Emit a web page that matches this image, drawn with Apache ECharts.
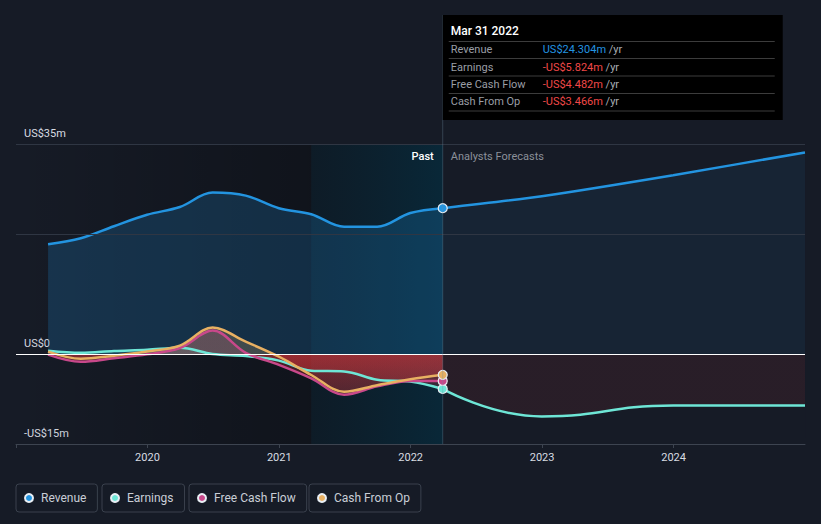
<!DOCTYPE html>
<html><head><meta charset="utf-8">
<script src="https://cdn.jsdelivr.net/npm/echarts@6/dist/echarts.min.js"></script>
<style>html,body{margin:0;padding:0;background:#161b26;}#c{width:821px;height:524px;}</style>
</head><body><div id="c"></div>
<script>
// ---------- data ----------
const pastDates = ['2019-03-31','2019-06-30','2019-09-30','2019-12-31','2020-03-31','2020-06-30','2020-09-30','2020-12-31','2021-03-31','2021-06-30','2021-09-30','2021-12-31','2022-03-31'];
const revenuePast  = [18.3, 19.3, 21.3, 23.2, 24.5, 26.9, 26.4, 24.3, 23.3, 21.2, 21.2, 23.5, 24.304];
const earningsPast = [0.55, 0.2, 0.5, 0.7, 1.05, 0.0, -0.33, -1.1, -2.8, -2.9, -4.3, -4.6, -5.824];
const fcfPast      = [-0.1, -1.3, -0.7, -0.05, 1.0, 3.9, 0.2, -1.8, -4.05, -6.8, -5.4, -4.5, -4.482];
const cfoPast      = [0.4, -0.8, -0.3, 0.4, 1.4, 4.4, 2.05, -0.45, -3.5, -6.3, -5.2, -4.2, -3.466];
const forecastDates    = ['2022-03-31','2022-12-31','2023-12-31','2024-12-31'];
const revenueForecast  = [24.304, 26.3, 29.8, 33.6];
const earningsForecast = [-5.824, -10.4, -8.6, -8.6];
const seriesNames = ['Revenue','Earnings','Free Cash Flow','Cash From Op'];
const yTickValues = [-15, 0, 35];
const yTickLabels = ['-US$15m', 'US$0', 'US$35m'];
const gridValues = [35, 20];
const xYearLabels = [2020, 2021, 2022, 2023, 2024];
const xMin = '2019-01-01', xMax = '2024-12-31';
const bandStart = '2021-03-31', nowDate = '2022-03-31';
const tipTitle = 'Mar 31 2022';
const tipValues = ['US$24.304m', '-US$5.824m', '-US$4.482m', '-US$3.466m'];
const pastLabel = 'Past', forecastLabel = 'Analysts Forecasts';

// ---------- styles ----------
const BG = '#161b26';
const C = {rev:'#2394e0', earn:'#6ee6d6', fcf:'#c8488a', cfo:'#e8b062', red:[226,56,60]};
const hexRgb = h => [parseInt(h.slice(1,3),16), parseInt(h.slice(3,5),16), parseInt(h.slice(5,7),16)];
const rgba = (c, a) => { const v = Array.isArray(c) ? c : hexRgb(c); return `rgba(${v[0]},${v[1]},${v[2]},${a})`; };
const zip = (d, v) => d.map((x, i) => [x, v[i]]);
const FONT = 'Roboto, "Noto Sans", sans-serif';

const chart = echarts.init(document.getElementById('c'), null, {renderer: 'svg'});

const lastSym = n => (v, p) => p.dataIndex === n - 1 ? 9 : 0;
function lineSeries(name, dates, vals, color, opts) {
  return Object.assign({
    name, type: 'line', data: zip(dates, vals), smooth: 0.35,
    color, symbol: 'circle', symbolSize: 0, showSymbol: true,
    lineStyle: {color, width: 2.5},
    itemStyle: {color, borderColor: '#e8eef4', borderWidth: 1.2},
    emphasis: {disabled: true}, silent: true, animation: false
  }, opts || {});
}

const baseOption = {
  backgroundColor: BG,
  animation: false,
  grid: {left: 16, right: 16, top: 144, bottom: 80, containLabel: false},
  xAxis: {
    type: 'time', min: xMin, max: xMax,
    minInterval: 365 * 24 * 3600 * 1000, maxInterval: 366 * 24 * 3600 * 1000,
    axisLine: {onZero: false, lineStyle: {color: '#3d4450', width: 1}},
    axisTick: {show: true, length: 4, lineStyle: {color: '#3d4450'}},
    splitLine: {show: false},
    axisLabel: {color: '#d8dce2', fontSize: 11, fontFamily: FONT, margin: 8,
      formatter: v => { const y = new Date(v).getFullYear(); return xYearLabels.indexOf(y) >= 0 ? String(y) : ''; }}
  },
  yAxis: {
    type: 'value', min: -15, max: 35, interval: 5,
    axisLine: {show: false}, axisTick: {show: false}, splitLine: {show: false},
    axisLabel: {inside: true, margin: 8, verticalAlign: 'bottom', padding: [0, 0, 5, 0],
      color: '#d8dce2', fontSize: 11, fontFamily: FONT,
      formatter: v => { const i = yTickValues.indexOf(v); return i >= 0 ? yTickLabels[i] : ''; }}
  },
  legend: seriesNames.map((n, i) => ({
    data: [n], left: [16, 102, 189, 309][i], top: 484, icon: 'circle',
    itemWidth: 14, itemHeight: 8, itemGap: 0, padding: [7, 11, 7, 8],
    borderColor: '#3a414d', borderWidth: 1, borderRadius: 3, selectedMode: false,
    textStyle: {color: '#c9ced6', fontSize: 12, fontFamily: FONT, lineHeight: 14}
  })),
  series: []
};
chart.setOption(baseOption);

const px = (d, v) => chart.convertToPixel({gridIndex: 0}, [+new Date(d), v]);
const yTop = px(xMin, 35)[1], y0 = px(xMin, 0)[1], yBot = px(xMin, -15)[1];
const xLeft = px(xMin, 0)[0], xRight = px(xMax, 0)[0];
const xNow = px(nowDate, 0)[0];

function signFill(pos, posA, neg, negA0, negA1) {
  const z = (y0 - yTop) / (yBot - yTop);
  return new echarts.graphic.LinearGradient(0, yTop, 0, yBot, [
    {offset: 0, color: rgba(pos, posA)}, {offset: z, color: rgba(pos, posA)},
    {offset: z, color: rgba(neg, negA0)}, {offset: 1, color: rgba(neg, negA1)}
  ], true);
}

const series = [
  { // background bands, gridlines
    name: '_bands', type: 'line', data: [], silent: true, z: 1,
    markArea: {silent: true, data: [
      [{xAxis: xMin, yAxis: 35, itemStyle: {color: new echarts.graphic.LinearGradient(0, 0, 1, 0, [
        {offset: 0, color: 'rgba(0,0,0,0)'}, {offset: 1, color: 'rgba(0,0,0,0.28)'}])}}, {xAxis: bandStart, yAxis: -15}],
      [{xAxis: bandStart, yAxis: 35, itemStyle: {color: new echarts.graphic.LinearGradient(0, 0, 1, 0, [
        {offset: 0, color: 'rgba(4,28,40,0.45)'}, {offset: 1, color: 'rgba(0,48,68,0.6)'}])}}, {xAxis: nowDate, yAxis: -15}]
    ]},
    markLine: {silent: true, symbol: ['none', 'none'], label: {show: false},
      data: gridValues.map(v => ({yAxis: v, lineStyle: {color: '#2f3643', width: 1, type: 'solid'}}))}
  },
  lineSeries('Revenue', pastDates, revenuePast, C.rev, {z: 3, symbolSize: lastSym(pastDates.length),
    areaStyle: {color: rgba(C.rev, 0.3)}}),
  lineSeries('Revenue', forecastDates, revenueForecast, C.rev, {z: 2, symbol: 'none', smooth: 0.2,
    areaStyle: {color: rgba(C.rev, 0.12)}}),
  lineSeries('Earnings', forecastDates, earningsForecast, C.earn, {z: 2, symbol: 'none', smooth: 0.5,
    areaStyle: {color: signFill(C.earn, 0.12, C.red, 0.13, 0.13)}}),
  lineSeries('Earnings', pastDates, earningsPast, C.earn, {z: 3, symbolSize: lastSym(pastDates.length),
    areaStyle: {color: signFill(C.earn, 0.15, C.red, 0.42, 0.04)}}),
  lineSeries('Free Cash Flow', pastDates, fcfPast, C.fcf, {z: 3, symbolSize: lastSym(pastDates.length),
    areaStyle: {color: signFill(C.fcf, 0.3, C.red, 0.42, 0.04)}}),
  lineSeries('Cash From Op', pastDates, cfoPast, C.cfo, {z: 3, symbolSize: lastSym(pastDates.length),
    areaStyle: {color: signFill(C.cfo, 0.3, C.red, 0.42, 0.04)}})
];

// zero line, tooltip box + labels
const boxTop = 15, boxW = 340, boxH = 105;
const rowY = [49.5, 67, 84.5, 101.5];
const sepY = [41.5, 58.5, 76, 93.5, 111];
const valColors = [C.rev, '#f04848', '#f04848', '#f04848'];
const g = [
  {type: 'line', silent: true, z: 40, shape: {x1: xLeft, y1: y0 + 0.5, x2: xRight, y2: y0 + 0.5},
    style: {stroke: '#ffffff', lineWidth: 1}},
  {type: 'rect', silent: true, z: 100, shape: {x: xRight + 0.5, y: yTop - 4, width: 40, height: yBot - yTop - 2},
    style: {fill: BG}},
  {type: 'line', silent: true, z: 50, shape: {x1: xNow, y1: boxTop, x2: xNow, y2: yBot},
    style: {stroke: 'rgba(110,140,160,0.35)', lineWidth: 1}},
  {type: 'rect', silent: true, z: 60, shape: {x: xNow, y: boxTop, width: boxW, height: boxH},
    style: {fill: '#000000'}},
  {type: 'text', silent: true, z: 61, x: xNow + 8, y: 31,
    style: {text: tipTitle, fill: '#ffffff', font: `500 12px ${FONT}`, verticalAlign: 'middle'}},
  {type: 'text', silent: true, z: 55, x: xNow - 9, y: 156,
    style: {text: pastLabel, fill: '#ffffff', font: `500 11px ${FONT}`, align: 'right', verticalAlign: 'middle'}},
  {type: 'text', silent: true, z: 55, x: xNow + 8, y: 156,
    style: {text: forecastLabel, fill: '#8b9099', font: `11px ${FONT}`, verticalAlign: 'middle'}}
];
sepY.forEach(y => g.push({type: 'line', silent: true, z: 61,
  shape: {x1: xNow + 6, y1: y, x2: xNow + boxW - 8, y2: y}, style: {stroke: '#3c3c3c', lineWidth: 1}}));
seriesNames.forEach((n, i) => {
  g.push({type: 'text', silent: true, z: 61, x: xNow + 8, y: rowY[i],
    style: {text: n, fill: '#9a9ea5', font: `11px ${FONT}`, verticalAlign: 'middle'}});
  g.push({type: 'text', silent: true, z: 61, x: xNow + 100, y: rowY[i],
    style: {text: `{v|${tipValues[i]}} {u|/yr}`, verticalAlign: 'middle', font: `11px ${FONT}`,
      rich: {v: {fill: valColors[i], font: `11px ${FONT}`}, u: {fill: '#a8acb3', font: `11px ${FONT}`}}}});
});

chart.setOption({series, graphic: {elements: g}});
</script></body></html>
